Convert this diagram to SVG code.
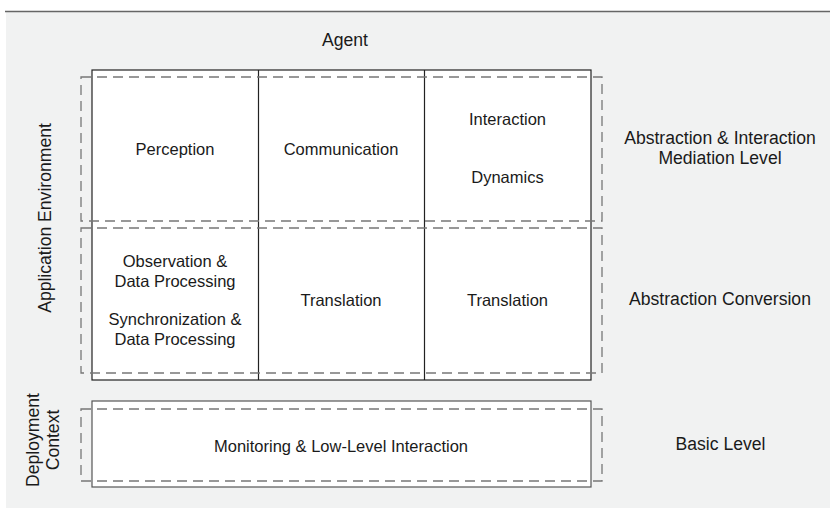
<svg xmlns="http://www.w3.org/2000/svg" width="830" height="512" viewBox="0 0 830 512">
  <style>
    text { font-family: "Liberation Sans", Arial, sans-serif; fill: #1a1a1a; }
    .cell-text { font-size: 16.5px; text-anchor: middle; }
    .label { font-size: 17.6px; text-anchor: middle; }
    .grid { fill: #ffffff; stroke: #222222; stroke-width: 1.2; }
    .divider { stroke: #222222; stroke-width: 1.2; fill: none; }
    .base-box { fill: #ffffff; stroke: #555555; stroke-width: 1.2; }
    .layer { fill: none; stroke: #777777; stroke-width: 1.3; stroke-dasharray: 10 6; }
  </style>

  <!-- page background and header rule -->
  <rect x="6" y="11.5" width="824" height="496.5" fill="#f1f2f2"/>
  <line x1="5" y1="11.5" x2="830" y2="11.5" stroke="#666666" stroke-width="1.3"/>

  <!-- agent grid: three columns, two rows -->
  <g id="agent-grid">
    <rect class="grid" x="92" y="70" width="499" height="310"/>
    <line class="divider" x1="258.5" y1="70" x2="258.5" y2="380"/>
    <line class="divider" x1="424.5" y1="70" x2="424.5" y2="380"/>
  </g>

  <!-- deployment context box -->
  <g id="deployment-box">
    <rect class="base-box" x="92" y="401" width="499" height="86"/>
  </g>

  <!-- dashed level bands -->
  <g id="connectors">
    <rect class="layer" x="81" y="77" width="521" height="144"/>
    <rect class="layer" x="81" y="228" width="521" height="145"/>
    <rect class="layer" x="81" y="409" width="521" height="72"/>
  </g>

  <g id="agent-label">
    <text class="label" x="345" y="46">Agent</text>
  </g>

  <g id="perception">
    <text class="cell-text" x="175" y="155">Perception</text>
  </g>
  <g id="communication">
    <text class="cell-text" x="341" y="155">Communication</text>
  </g>
  <g id="interaction-dynamics">
    <text class="cell-text" x="507.5" y="125">Interaction</text>
    <text class="cell-text" x="507.5" y="183">Dynamics</text>
  </g>

  <g id="observation-sync">
    <text class="cell-text" x="175" y="266.5">Observation &amp;</text>
    <text class="cell-text" x="175" y="286.5">Data Processing</text>
    <text class="cell-text" x="175" y="324.5">Synchronization &amp;</text>
    <text class="cell-text" x="175" y="344.5">Data Processing</text>
  </g>
  <g id="translation-middle">
    <text class="cell-text" x="341" y="306">Translation</text>
  </g>
  <g id="translation-right">
    <text class="cell-text" x="507.5" y="306">Translation</text>
  </g>

  <g id="monitoring">
    <text class="cell-text" x="341" y="452">Monitoring &amp; Low-Level Interaction</text>
  </g>

  <g id="application-environment-label">
    <text class="label" transform="translate(51,218) rotate(-90)">Application Environment</text>
  </g>
  <g id="deployment-context-label">
    <text class="label" transform="translate(38.6,440) rotate(-90)">Deployment</text>
    <text class="label" transform="translate(59.3,440) rotate(-90)">Context</text>
  </g>

  <g id="level-labels">
    <text class="label" x="720" y="143.5">Abstraction &amp; Interaction</text>
    <text class="label" x="720" y="164">Mediation Level</text>
    <text class="label" x="720" y="305">Abstraction Conversion</text>
    <text class="label" x="720.5" y="450">Basic Level</text>
  </g>
</svg>
